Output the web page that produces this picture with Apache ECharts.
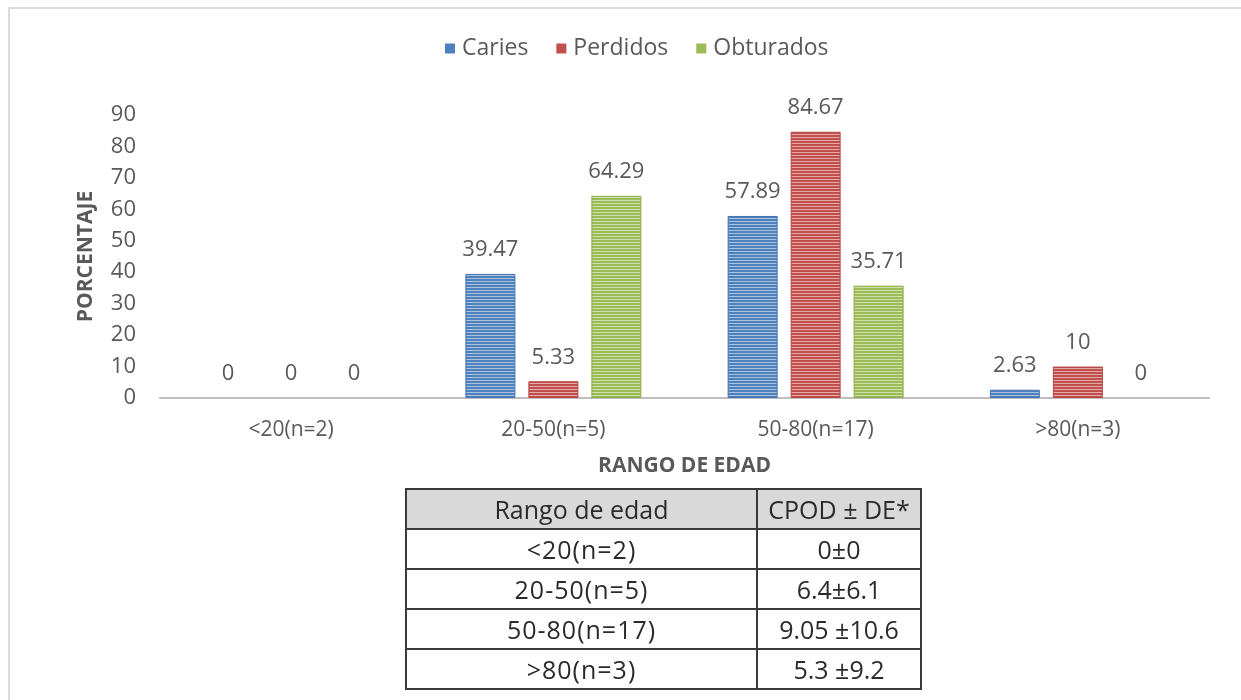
<!DOCTYPE html>
<html>
<head>
<meta charset="utf-8">
<script src="https://cdn.jsdelivr.net/npm/echarts@6/dist/echarts.min.js"></script>
<style>
  html, body { margin: 0; padding: 0; background: #fff; }
  #wrap { position: relative; width: 1241px; height: 700px; overflow: hidden; }
  #frame { position: absolute; left: 8px; top: 7px; width: 1300px; height: 800px;
           border-left: 2px solid #dcdcdc; border-top: 2px solid #dcdcdc; box-sizing: border-box; }
  #chart { position: absolute; left: 0; top: 0; width: 1241px; height: 700px; }
  #tbl { position: absolute; left: 405px; top: 488px; border-collapse: collapse;
         font-family: "Open Sans", sans-serif; color: #2b2b2b; }
  #tbl td, #tbl th { border: 2px solid #3a3a3a; text-align: center; padding: 0;
         height: 38px; font-size: 25px; font-weight: 500; line-height: 38px; }
  #tbl th { background: #d9d9d9; }
  #tbl td.c1, #tbl th.c1 { width: 349px; }
  #tbl td.c2, #tbl th.c2 { width: 162px; }
  #tbl td.c1 { letter-spacing: 1px; }
</style>
</head>
<body>
<div id="wrap">
  <div id="frame"></div>
  <div id="chart"></div>
  <table id="tbl"></table>
</div>
<script>
// Age groups and the share (%) of teeth in each condition
const categories = ['<20(n=2)', '20-50(n=5)', '50-80(n=17)', '>80(n=3)'];
const caries     = [0, 39.47, 57.89, 2.63];
const perdidos   = [0, 5.33, 84.67, 10];
const obturados  = [0, 64.29, 35.71, 0];
const seriesNames = ['Caries', 'Perdidos', 'Obturados'];
const yTicks = [0, 10, 20, 30, 40, 50, 60, 70, 80, 90];

// CPOD table below the chart
const tableHeader = ['Rango de edad', 'CPOD ± DE*'];
const tableRanges = ['<20(n=2)', '20-50(n=5)', '50-80(n=17)', '>80(n=3)'];
const tableCpod   = ['0±0', '6.4±6.1', '9.05 ±10.6', '5.3 ±9.2'];

// Build the table
(function () {
  const t = document.getElementById('tbl');
  const esc = s => s.replace(/</g, '&lt;').replace(/>/g, '&gt;');
  let html = '<tr><th class="c1">' + tableHeader[0] + '</th><th class="c2">' + tableHeader[1] + '</th></tr>';
  for (let i = 0; i < tableRanges.length; i++) {
    html += '<tr><td class="c1">' + esc(tableRanges[i]) + '</td><td class="c2">' + tableCpod[i] + '</td></tr>';
  }
  t.innerHTML = html;
})();

// Horizontal-stripe fill for the bars
function stripes(base, light) {
  const c = document.createElement('canvas');
  c.width = 4; c.height = 3;
  const g = c.getContext('2d');
  g.fillStyle = base; g.fillRect(0, 0, 4, 3);
  g.fillStyle = light; g.fillRect(0, 2, 4, 1);
  return { image: c, repeat: 'repeat' };
}

const palette = [
  { base: '#4f81bd', light: '#a9c2e2', edge: '#4472b0' },
  { base: '#c0504d', light: '#e6aaa8', edge: '#b54643' },
  { base: '#9bbb59', light: '#d0e0ad', edge: '#8cad4a' }
];
const values = [caries, perdidos, obturados];

const FONT = '"Open Sans", sans-serif';
const TXT = '#595959';

const chart = echarts.init(document.getElementById('chart'), null, { renderer: 'canvas' });
chart.setOption({
  animation: false,
  textStyle: { fontFamily: FONT },
  legend: {
    top: 32,
    left: 440,
    itemWidth: 10,
    itemHeight: 10,
    itemGap: 28,
    icon: 'rect',
    textStyle: { fontSize: 23, color: TXT, fontFamily: FONT, padding: [0, 0, 0, 2] },
    data: seriesNames.map((n, i) => ({ name: n, itemStyle: { color: palette[i].base, borderWidth: 0 } }))
  },
  grid: { left: 160, right: 32, top: 115, bottom: 302, containLabel: false },
  xAxis: {
    type: 'category',
    data: categories,
    name: 'RANGO DE EDAD',
    nameLocation: 'middle',
    nameGap: 58,
    nameTextStyle: { fontSize: 21, fontWeight: 'bold', color: TXT, fontFamily: FONT },
    axisLine: { lineStyle: { color: '#bfbfbf', width: 2 } },
    axisTick: { show: false },
    axisLabel: { fontSize: 21, color: TXT, margin: 22, fontFamily: FONT }
  },
  yAxis: {
    type: 'value',
    min: yTicks[0],
    max: yTicks[yTicks.length - 1],
    interval: 10,
    name: 'PORCENTAJE',
    nameLocation: 'middle',
    nameGap: 63,
    nameTextStyle: { fontSize: 21, fontWeight: 'bold', color: TXT, fontFamily: FONT },
    axisLine: { show: false },
    axisTick: { show: false },
    splitLine: { show: false },
    axisLabel: { fontSize: 22, color: TXT, margin: 24, fontFamily: FONT }
  },
  series: seriesNames.map((n, i) => ({
    name: n,
    type: 'bar',
    barWidth: 50,
    barGap: '26%',
    // zero-height bars keep their value label but draw no outline
    data: values[i].map(v => v === 0
      ? { value: v, itemStyle: { borderWidth: 0, color: 'rgba(0,0,0,0)' } }
      : v),
    itemStyle: {
      color: stripes(palette[i].base, palette[i].light),
      borderColor: palette[i].edge,
      borderWidth: 1
    },
    label: {
      show: true,
      position: 'top',
      distance: 13,
      fontSize: 22,
      color: TXT,
      fontFamily: FONT
    }
  }))
});
</script>
</body>
</html>
